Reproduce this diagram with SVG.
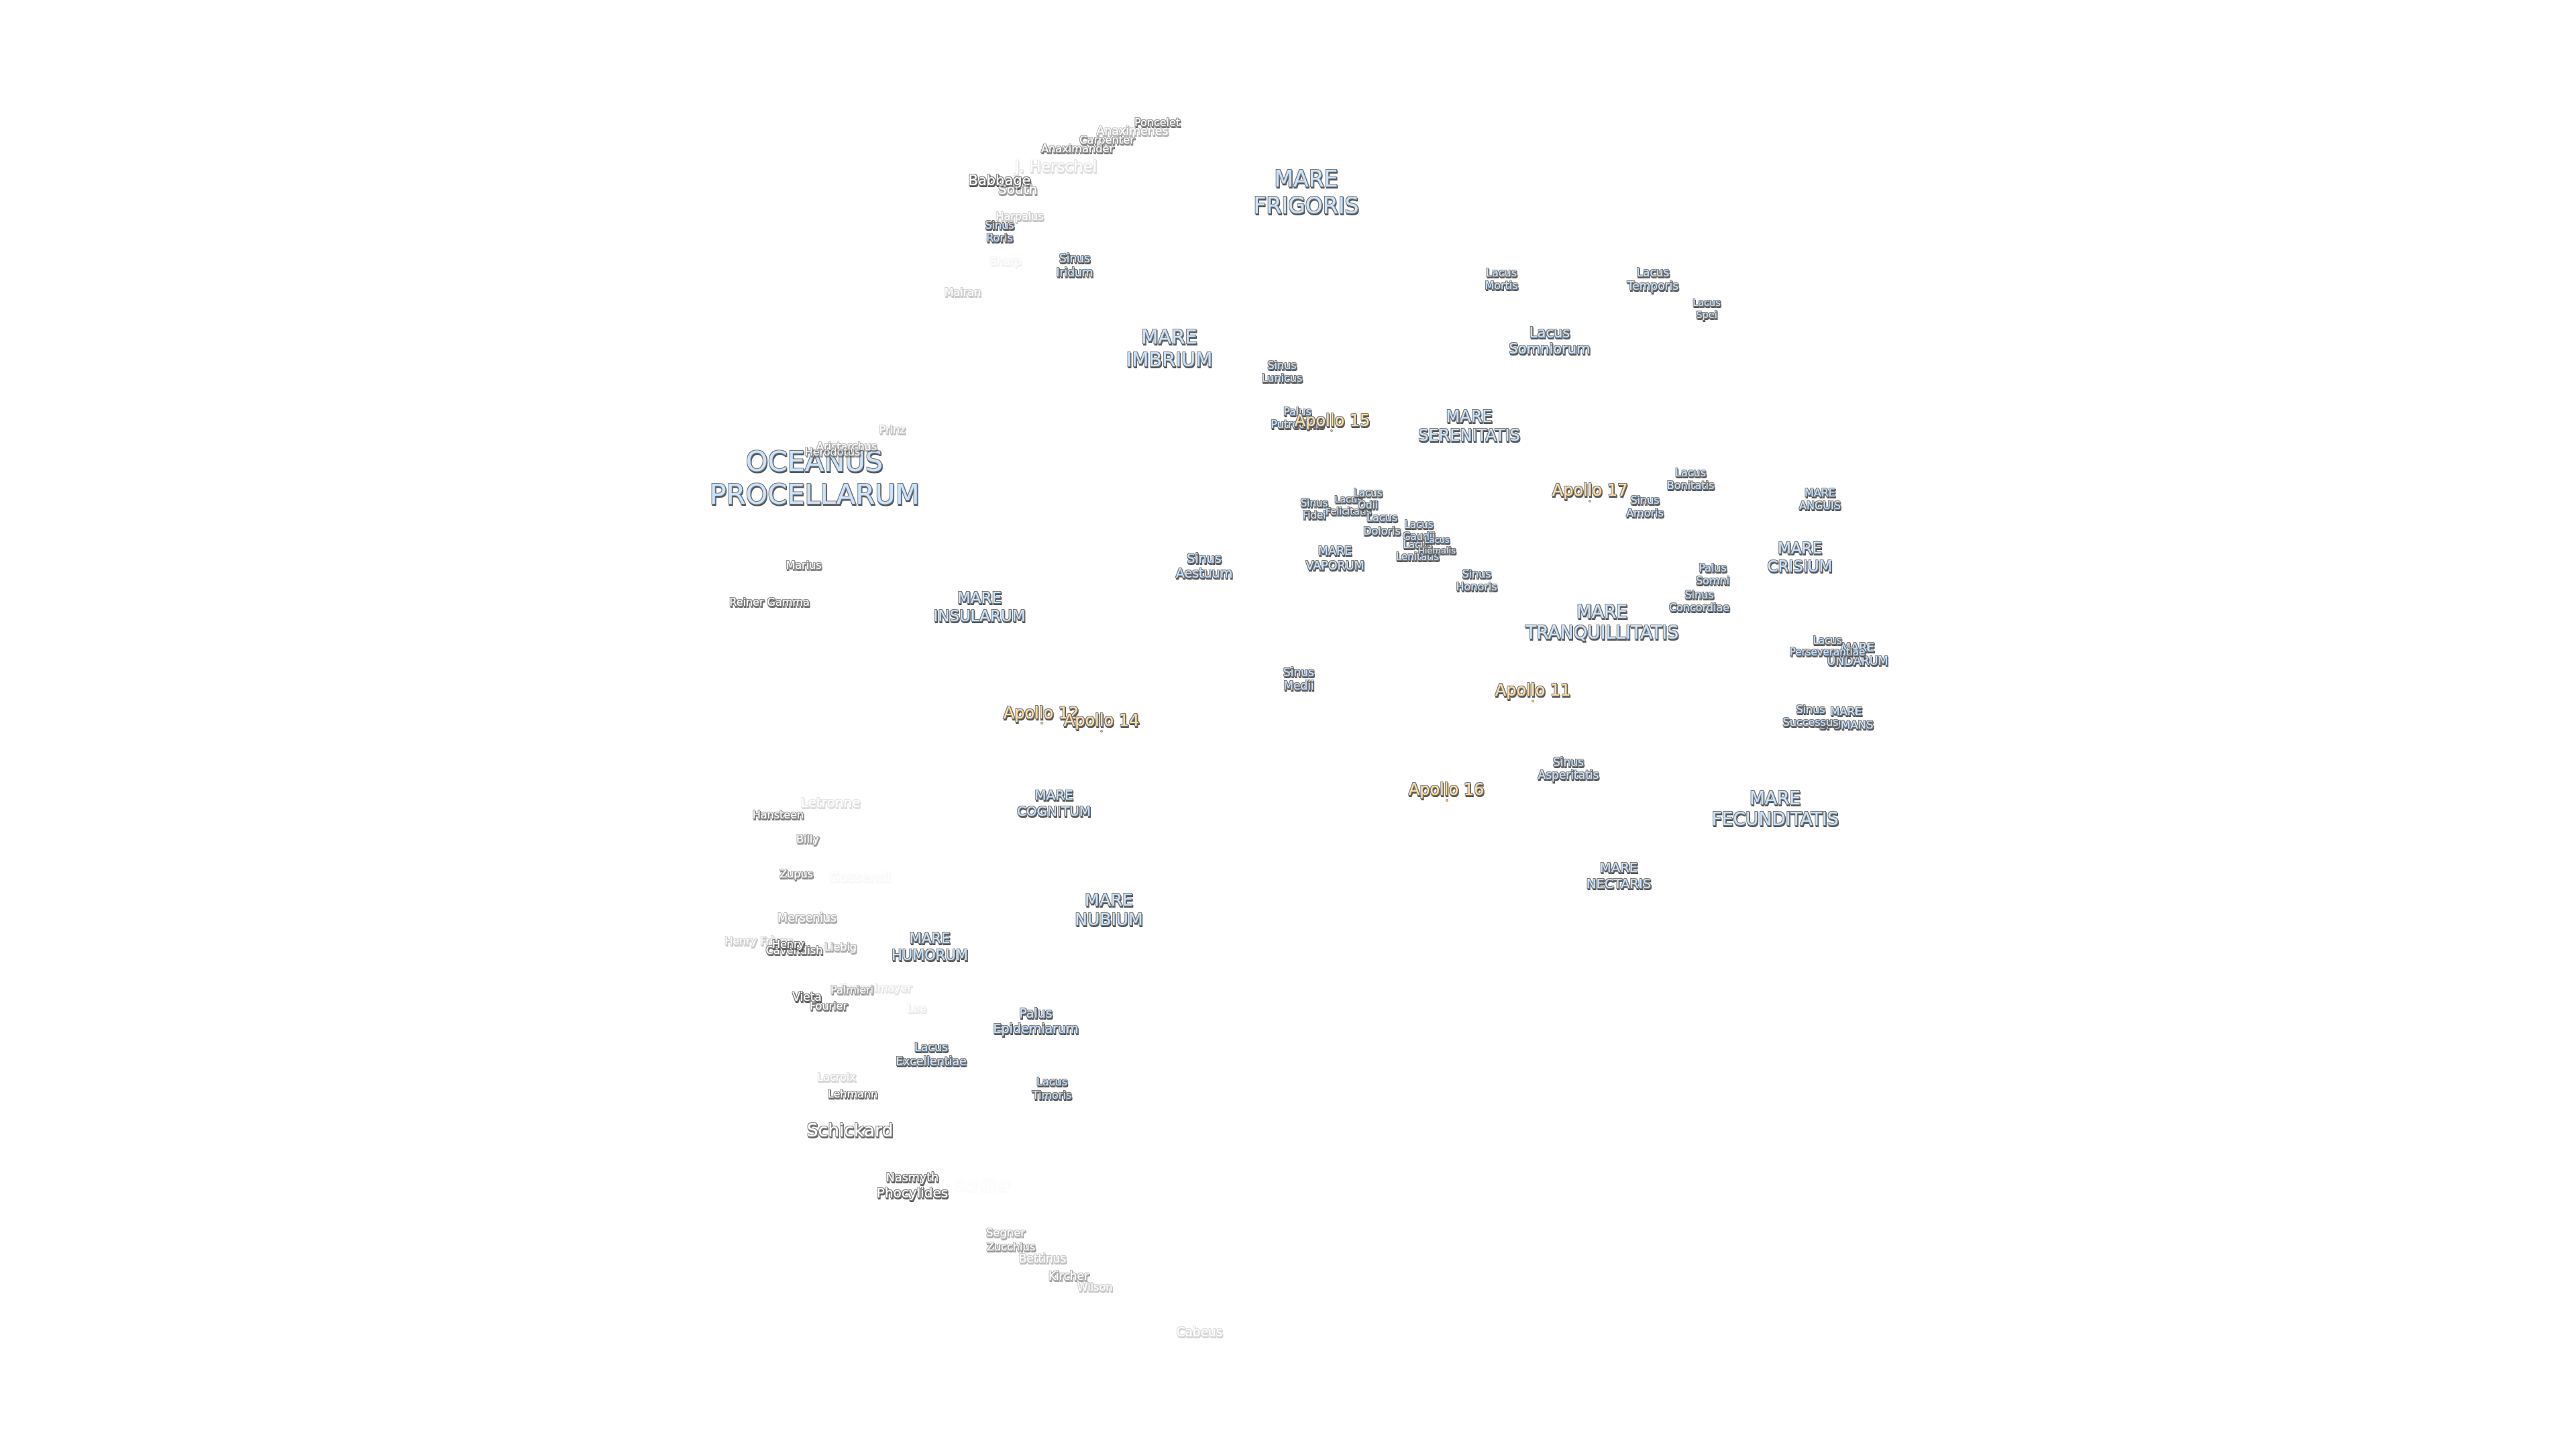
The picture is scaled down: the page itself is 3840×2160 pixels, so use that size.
<svg xmlns="http://www.w3.org/2000/svg" width="3840" height="2160" viewBox="0 0 3840 2160">
<style>
text{font-family:"DejaVu Sans",sans-serif;text-anchor:middle;filter:url(#halo)}
.m{fill:#cbe4ff}.c{fill:#fff}.a{fill:#ffe0a6}
.d{fill:#e8b860;stroke:#777;stroke-width:.6}
</style>
<defs>
<filter id="halo" x="-25%" y="-35%" width="150%" height="170%">
<feMorphology in="SourceAlpha" operator="dilate" radius="1" result="fat"/>
<feFlood flood-color="#777"/><feComposite in2="fat" operator="in" result="edge"/>
<feOffset in="fat" dx="1.4" dy="2" result="off"/>
<feFlood flood-color="#555"/><feComposite in2="off" operator="in" result="shadow"/>
<feMerge result="all"><feMergeNode in="shadow"/><feMergeNode in="edge"/><feMergeNode in="SourceGraphic"/></feMerge>
<feGaussianBlur in="all" stdDeviation=".55"/>
</filter>
</defs>
<rect width="3840" height="2160" fill="#fff"/>
<g id="connectors"/>
<g id="oceanus-procellarum"><text class="m" font-size="41.6" x="1214" y="702">OCEANUS<tspan x="1214" dy="49">PROCELLARUM</tspan></text></g>
<g id="mare-frigoris"><text class="m" font-size="33" x="1947" y="278">MARE<tspan x="1947" dy="40">FRIGORIS</tspan></text></g>
<g id="mare-imbrium"><text class="m" font-size="29" x="1743" y="512">MARE<tspan x="1743" dy="34">IMBRIUM</tspan></text></g>
<g id="mare-serenitatis"><text class="m" font-size="24" x="2190" y="629">MARE<tspan x="2190" dy="28">SERENITATIS</tspan></text></g>
<g id="mare-tranquillitatis"><text class="m" font-size="26.5" x="2388" y="921">MARE<tspan x="2388" dy="31">TRANQUILLITATIS</tspan></text></g>
<g id="mare-fecunditatis"><text class="m" font-size="26.5" x="2646" y="1199">MARE<tspan x="2646" dy="31">FECUNDITATIS</tspan></text></g>
<g id="mare-nectaris"><text class="m" font-size="19.6" x="2413" y="1300">MARE<tspan x="2413" dy="24">NECTARIS</tspan></text></g>
<g id="mare-crisium"><text class="m" font-size="23" x="2683" y="825">MARE<tspan x="2683" dy="27">CRISIUM</tspan></text></g>
<g id="mare-anguis"><text class="m" font-size="16" x="2713" y="740">MARE<tspan x="2713" dy="18.5">ANGUIS</tspan></text></g>
<g id="mare-undarum"><text class="m" font-size="17.5" x="2769" y="971">MARE<tspan x="2769" dy="20">UNDARUM</tspan></text></g>
<g id="mare-spumans"><text class="m" font-size="16.5" x="2752" y="1066">MARE<tspan x="2752" dy="19.5">SPUMANS</tspan></text></g>
<g id="mare-vaporum"><text class="m" font-size="17.5" x="1990" y="827">MARE<tspan x="1990" dy="21.5">VAPORUM</tspan></text></g>
<g id="mare-insularum"><text class="m" font-size="23" x="1460" y="899">MARE<tspan x="1460" dy="27">INSULARUM</tspan></text></g>
<g id="mare-cognitum"><text class="m" font-size="20" x="1571" y="1192">MARE<tspan x="1571" dy="24">COGNITUM</tspan></text></g>
<g id="mare-nubium"><text class="m" font-size="25" x="1653" y="1350">MARE<tspan x="1653" dy="29">NUBIUM</tspan></text></g>
<g id="mare-humorum"><text class="m" font-size="21" x="1386" y="1406">MARE<tspan x="1386" dy="25">HUMORUM</tspan></text></g>
<g id="sinus-roris"><text class="m" font-size="16" x="1490" y="341">Sinus<tspan x="1490" dy="19">Roris</tspan></text></g>
<g id="sinus-iridum"><text class="m" font-size="17" x="1602" y="391">Sinus<tspan x="1602" dy="21">Iridum</tspan></text></g>
<g id="sinus-lunicus"><text class="m" font-size="16" x="1911" y="550">Sinus<tspan x="1911" dy="19">Lunicus</tspan></text></g>
<g id="sinus-aestuum"><text class="m" font-size="19" x="1795" y="839">Sinus<tspan x="1795" dy="22">Aestuum</tspan></text></g>
<g id="sinus-medii"><text class="m" font-size="17" x="1936" y="1008">Sinus<tspan x="1936" dy="20">Medii</tspan></text></g>
<g id="sinus-fidei"><text class="m" font-size="15" x="1959" y="755">Sinus<tspan x="1959" dy="18">Fidei</tspan></text></g>
<g id="sinus-honoris"><text class="m" font-size="16" x="2201" y="861">Sinus<tspan x="2201" dy="19">Honoris</tspan></text></g>
<g id="sinus-amoris"><text class="m" font-size="16" x="2452" y="751">Sinus<tspan x="2452" dy="19">Amoris</tspan></text></g>
<g id="sinus-concordiae"><text class="m" font-size="16" x="2533" y="892">Sinus<tspan x="2533" dy="19">Concordiae</tspan></text></g>
<g id="sinus-successus"><text class="m" font-size="16" x="2699" y="1063">Sinus<tspan x="2699" dy="19">Successus</tspan></text></g>
<g id="sinus-asperitatis"><text class="m" font-size="17" x="2338" y="1142">Sinus<tspan x="2338" dy="19">Asperitatis</tspan></text></g>
<g id="palus-putredinis"><text class="m" font-size="16" x="1934" y="619">Palus<tspan x="1934" dy="19">Putredinis</tspan></text></g>
<g id="palus-somni"><text class="m" font-size="16" x="2553" y="852">Palus<tspan x="2553" dy="19">Somni</tspan></text></g>
<g id="palus-epidemiarum"><text class="m" font-size="19" x="1544" y="1517">Palus<tspan x="1544" dy="23">Epidemiarum</tspan></text></g>
<g id="lacus-mortis"><text class="m" font-size="16" x="2238" y="412">Lacus<tspan x="2238" dy="19">Mortis</tspan></text></g>
<g id="lacus-temporis"><text class="m" font-size="17" x="2464" y="412">Lacus<tspan x="2464" dy="20">Temporis</tspan></text></g>
<g id="lacus-spei"><text class="m" font-size="14.5" x="2544" y="456">Lacus<tspan x="2544" dy="18">Spei</tspan></text></g>
<g id="lacus-somniorum"><text class="m" font-size="21" x="2310" y="503">Lacus<tspan x="2310" dy="24">Somniorum</tspan></text></g>
<g id="lacus-bonitatis"><text class="m" font-size="16" x="2520" y="710">Lacus<tspan x="2520" dy="19">Bonitatis</tspan></text></g>
<g id="lacus-felicitatis"><text class="m" font-size="14.5" x="2010" y="749">Lacus<tspan x="2010" dy="18">Felicitatis</tspan></text></g>
<g id="lacus-odii"><text class="m" font-size="15" x="2039" y="740">Lacus<tspan x="2039" dy="18">Odii</tspan></text></g>
<g id="lacus-doloris"><text class="m" font-size="16" x="2060" y="777">Lacus<tspan x="2060" dy="20">Doloris</tspan></text></g>
<g id="lacus-gaudii"><text class="m" font-size="15" x="2115" y="787">Lacus<tspan x="2115" dy="18">Gaudii</tspan></text></g>
<g id="lacus-lenitatis"><text class="m" font-size="15" x="2113" y="817">Lacus<tspan x="2113" dy="18">Lenitatis</tspan></text></g>
<g id="lacus-hiemalis"><text class="m" font-size="13" x="2142" y="809">Lacus<tspan x="2142" dy="16">Hiemalis</tspan></text></g>
<g id="lacus-perseverantiae"><text class="m" font-size="15" x="2724" y="960">Lacus<tspan x="2724" dy="17">Perseverantiae</tspan></text></g>
<g id="lacus-excellentiae"><text class="m" font-size="17.4" x="1388" y="1567">Lacus<tspan x="1388" dy="21">Excellentiae</tspan></text></g>
<g id="lacus-timoris"><text class="m" font-size="16" x="1568" y="1618">Lacus<tspan x="1568" dy="19.5">Timoris</tspan></text></g>
<g id="poncelet" opacity=".85"><text class="c" font-size="16" x="1725" y="188">Poncelet</text></g>
<g id="anaximenes" opacity=".45"><text class="c" font-size="17.4" x="1688" y="201">Anaximenes</text></g>
<g id="carpenter" opacity=".7"><text class="c" font-size="16.3" x="1650" y="214">Carpenter</text></g>
<g id="anaximander" opacity=".8"><text class="c" font-size="16.2" x="1606" y="227">Anaximander</text></g>
<g id="j-herschel" opacity=".2"><text class="c" font-size="23" x="1574" y="256">J. Herschel</text></g>
<g id="babbage"><text class="c" font-size="21" x="1490" y="276">Babbage</text></g>
<g id="south" opacity=".6"><text class="c" font-size="20" x="1517" y="289">South</text></g>
<g id="harpalus" opacity=".35"><text class="c" font-size="16" x="1520" y="328">Harpalus</text></g>
<g id="sharp" opacity=".07"><text class="c" font-size="16" x="1499" y="395">Sharp</text></g>
<g id="mairan" opacity=".32"><text class="c" font-size="16" x="1435" y="441">Mairan</text></g>
<g id="prinz" opacity=".38"><text class="c" font-size="16" x="1330" y="646">Prinz</text></g>
<g id="aristarchus" opacity=".55"><text class="c" font-size="16" x="1262" y="671">Aristarchus</text></g>
<g id="herodotus" opacity=".7"><text class="c" font-size="16" x="1241" y="679">Herodotus</text></g>
<g id="marius" opacity=".8"><text class="c" font-size="16" x="1198" y="848">Marius</text></g>
<g id="reiner-gamma" opacity=".9"><text class="c" font-size="16" x="1147" y="903">Reiner Gamma</text></g>
<g id="letronne" opacity=".2"><text class="c" font-size="20" x="1238" y="1203">Letronne</text></g>
<g id="hansteen" opacity=".8"><text class="c" font-size="16" x="1160" y="1220">Hansteen</text></g>
<g id="billy" opacity=".6"><text class="c" font-size="16" x="1204" y="1256">Billy</text></g>
<g id="zupus" opacity=".7"><text class="c" font-size="16" x="1187" y="1308">Zupus</text></g>
<g id="gassendi" opacity=".04"><text class="c" font-size="20" x="1282" y="1314">Gassendi</text></g>
<g id="mersenius" opacity=".5"><text class="c" font-size="17.3" x="1203" y="1374">Mersenius</text></g>
<g id="henry-freres" opacity=".32"><text class="c" font-size="16" x="1131" y="1408">Henry Frères</text></g>
<g id="cavendish" opacity=".85"><text class="c" font-size="16.3" x="1184" y="1422">Cavendish</text></g>
<g id="henry"><text class="c" font-size="16" x="1175" y="1413">Henry</text></g>
<g id="liebig" opacity=".5"><text class="c" font-size="16" x="1253" y="1417">Liebig</text></g>
<g id="doppelmayer" opacity=".16"><text class="c" font-size="16" x="1305" y="1478">Doppelmayer</text></g>
<g id="palmieri" opacity=".6"><text class="c" font-size="16" x="1270" y="1481">Palmieri</text></g>
<g id="vieta"><text class="c" font-size="17" x="1203" y="1492">Vieta</text></g>
<g id="fourier" opacity=".8"><text class="c" font-size="16" x="1235" y="1505">Fourier</text></g>
<g id="lee" opacity=".13"><text class="c" font-size="16" x="1367" y="1509">Lee</text></g>
<g id="lacroix" opacity=".25"><text class="c" font-size="16" x="1247" y="1611">Lacroix</text></g>
<g id="lehmann" opacity=".9"><text class="c" font-size="16" x="1271" y="1636">Lehmann</text></g>
<g id="schickard" opacity=".9"><text class="c" font-size="26.5" x="1267" y="1694">Schickard</text></g>
<g id="nasmyth" opacity=".95"><text class="c" font-size="17.5" x="1360" y="1761">Nasmyth</text></g>
<g id="phocylides" opacity=".95"><text class="c" font-size="20" x="1360" y="1785">Phocylides</text></g>
<g id="schiller" opacity=".02"><text class="c" font-size="22.8" x="1465" y="1775">Schiller</text></g>
<g id="segner" opacity=".5"><text class="c" font-size="16.4" x="1499" y="1843">Segner</text></g>
<g id="zucchius" opacity=".6"><text class="c" font-size="16.2" x="1507" y="1864">Zucchius</text></g>
<g id="bettinus" opacity=".38"><text class="c" font-size="17" x="1554" y="1882">Bettinus</text></g>
<g id="kircher" opacity=".55"><text class="c" font-size="17" x="1593" y="1908">Kircher</text></g>
<g id="wilson" opacity=".32"><text class="c" font-size="16" x="1632" y="1924">Wilson</text></g>
<g id="cabeus" opacity=".25"><text class="c" font-size="18.6" x="1788" y="1992">Cabeus</text></g>
<g id="apollo-11"><circle class="d" cx="2285" cy="1045" r="1.7"/><text class="a" font-size="24" x="2285" y="1037">Apollo 11</text></g>
<g id="apollo-12"><circle class="d" cx="1553" cy="1078" r="1.7"/><text class="a" font-size="24" x="1552" y="1071">Apollo 12</text></g>
<g id="apollo-14"><circle class="d" cx="1642" cy="1090" r="1.7"/><text class="a" font-size="24" x="1642" y="1082">Apollo 14</text></g>
<g id="apollo-15"><circle class="d" cx="1985" cy="642" r="1.7"/><text class="a" font-size="24" x="1986" y="635">Apollo 15</text></g>
<g id="apollo-16"><circle class="d" cx="2157" cy="1193" r="1.7"/><text class="a" font-size="24" x="2156" y="1185">Apollo 16</text></g>
<g id="apollo-17"><circle class="d" cx="2370" cy="747" r="1.7"/><text class="a" font-size="24" x="2370" y="739">Apollo 17</text></g>
</svg>
